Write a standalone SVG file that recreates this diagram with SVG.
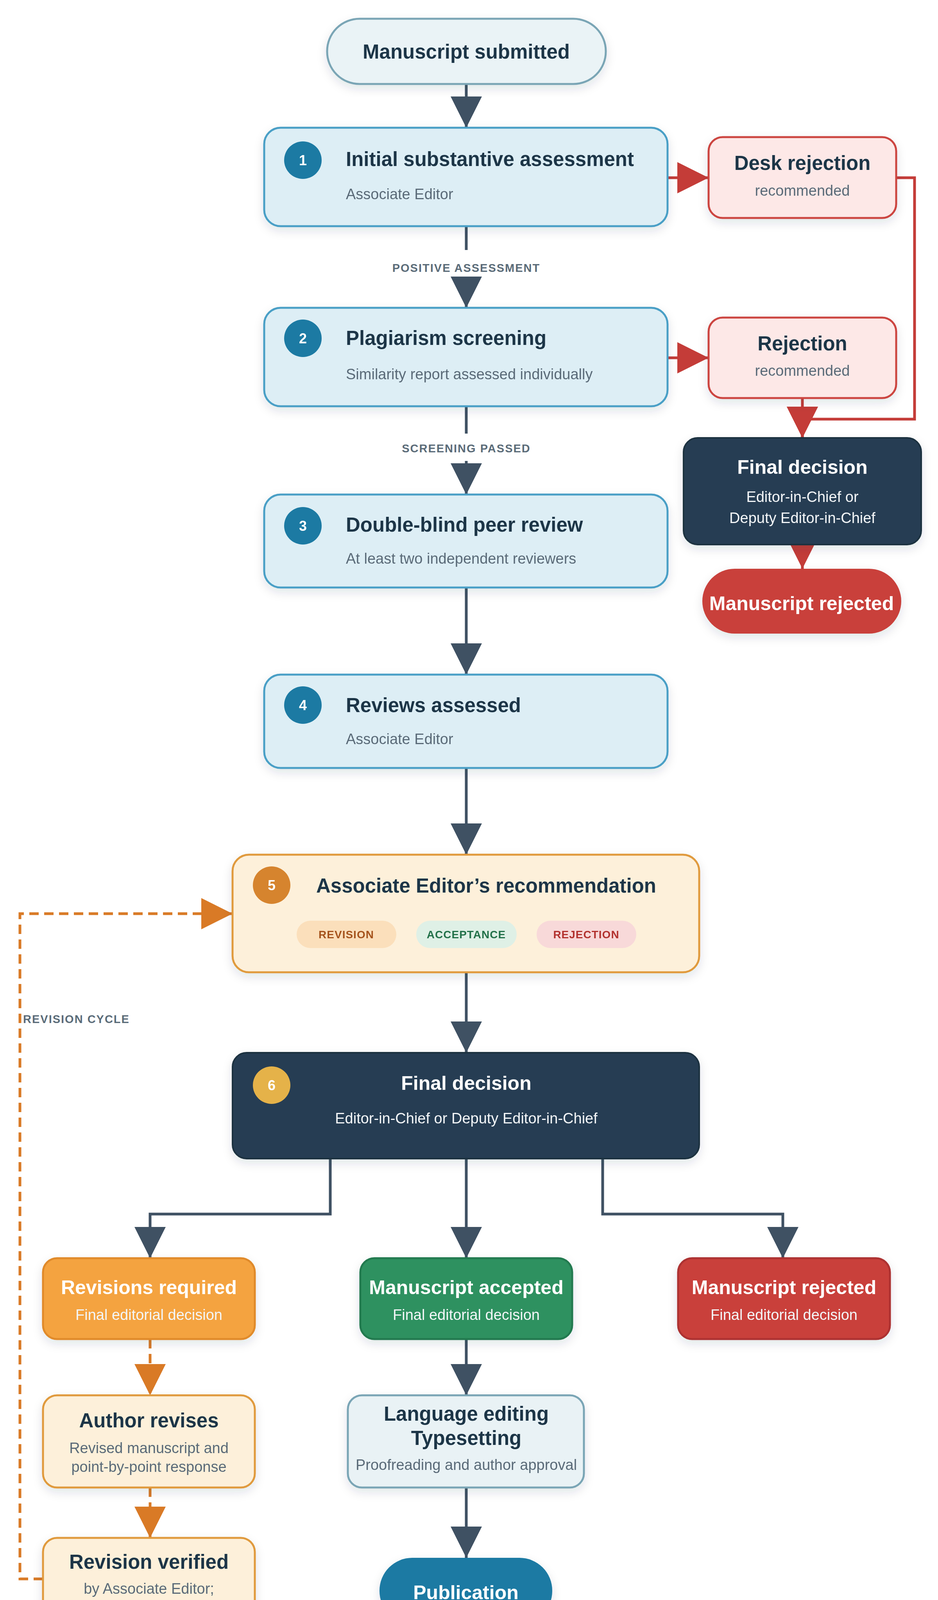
<svg xmlns="http://www.w3.org/2000/svg" width="2400" height="4230" viewBox="0 0 2400 4230">
<defs>
<filter id="sh" x="-10%" y="-10%" width="120%" height="130%"><feDropShadow dx="0" dy="10" stdDeviation="12" flood-color="#1c3447" flood-opacity="0.12"/></filter>
<marker id="ad" markerUnits="userSpaceOnUse" markerWidth="80" markerHeight="80" refX="80" refY="40" orient="auto"><path d="M0,0 L80,40 L0,80 Z" fill="#3f5163"/></marker>
<marker id="ar" markerUnits="userSpaceOnUse" markerWidth="80" markerHeight="80" refX="80" refY="40" orient="auto"><path d="M0,0 L80,40 L0,80 Z" fill="#c43c38"/></marker>
<marker id="ao" markerUnits="userSpaceOnUse" markerWidth="80" markerHeight="80" refX="80" refY="40" orient="auto"><path d="M0,0 L80,40 L0,80 Z" fill="#d97a26"/></marker>
</defs>
<style>
text{font-family:"Liberation Sans",Arial,sans-serif}
.t{font-size:51px;font-weight:bold;fill:#1c3447}
.tw{font-size:50px;font-weight:bold;fill:#ffffff}
.s{font-size:38px;fill:#5a6b78}
.sw{font-size:38px;fill:#f3f6f8}
.blue{fill:#ddeef5;stroke:#4a9fc6;stroke-width:5}
.red{fill:#fde8e7;stroke:#cc4440;stroke-width:5}
.dark{fill:#263d52;stroke:#1c3040;stroke-width:4}
.cream{fill:#fdf0da;stroke:#e09a3e;stroke-width:5}
.num{font-size:36px;font-weight:bold;fill:#fff}
.lab{font-size:29px;font-weight:bold;fill:#5a6b78;letter-spacing:2px}
.cd{fill:none;stroke:#3f5163;stroke-width:7}
.cr{fill:none;stroke:#c43c38;stroke-width:7}
.co{fill:none;stroke:#d97a26;stroke-width:7;stroke-dasharray:24 14}
</style>
<g id="connectors">
<path class="cd" d="M1193,215 V327" marker-end="url(#ad)"/>
<path class="cd" d="M1193,579 V640"/>
<path class="cd" d="M1193,711 V788" marker-end="url(#ad)"/>
<path class="cd" d="M1193,1040 V1110"/>
<path class="cd" d="M1193,1180 V1266" marker-end="url(#ad)"/>
<path class="cd" d="M1193,1504 V1727" marker-end="url(#ad)"/>
<path class="cd" d="M1193,1966 V2188" marker-end="url(#ad)"/>
<path class="cd" d="M1193,2489 V2695" marker-end="url(#ad)"/>
<path class="cr" d="M1708,455 H1813" marker-end="url(#ar)"/>
<path class="cr" d="M1708,916 H1813" marker-end="url(#ar)"/>
<path class="cr" d="M2293,455 H2340 V1073 H2053 V1121" marker-end="url(#ar)"/>
<path class="cr" d="M2053,1019 V1121" marker-end="url(#ar)"/>
<path class="cr" d="M2053,1394 V1456" marker-end="url(#ar)"/>
<path class="cd" d="M845,2966 V3108 H384 V3221" marker-end="url(#ad)"/>
<path class="cd" d="M1193,2966 V3221" marker-end="url(#ad)"/>
<path class="cd" d="M1542,2966 V3108 H2003 V3221" marker-end="url(#ad)"/>
<path class="co" d="M384,3428 V3572" marker-end="url(#ao)"/>
<path class="co" d="M384,3808 V3937" marker-end="url(#ao)"/>
<path class="co" d="M110,4042 H51 V2339 H595" marker-end="url(#ao)"/>
<path class="cd" d="M1193,3428 V3572" marker-end="url(#ad)"/>
<path class="cd" d="M1193,3808 V3988" marker-end="url(#ad)"/>
<text class="lab" x="1193" y="696" text-anchor="middle">POSITIVE ASSESSMENT</text>
<text class="lab" x="1193" y="1158" text-anchor="middle">SCREENING PASSED</text>
<text class="lab" x="59" y="2619">REVISION CYCLE</text>
</g>
<g id="submitted" filter="url(#sh)"><rect x="837" y="48" width="713" height="167" rx="83" fill="#eaf3f6" stroke="#7aa5b5" stroke-width="5"/><text class="t" x="1193" y="150" text-anchor="middle" font-size="54">Manuscript submitted</text></g>
<g id="step1" filter="url(#sh)"><rect class="blue" x="676" y="327" width="1032" height="252" rx="42"/><circle cx="775" cy="410" r="48" fill="#1a7aa3"/><text class="num" x="775" y="423" text-anchor="middle">1</text><text class="t" x="885" y="425">Initial substantive assessment</text><text class="s" x="885" y="510" font-size="40">Associate Editor</text></g>
<g id="desk" filter="url(#sh)"><rect class="red" x="1813" y="351" width="480" height="207" rx="36"/><text class="t" x="2053" y="435" text-anchor="middle">Desk rejection</text><text class="s" x="2053" y="501" text-anchor="middle">recommended</text></g>
<g id="step2" filter="url(#sh)"><rect class="blue" x="676" y="788" width="1032" height="252" rx="42"/><circle cx="775" cy="866" r="48" fill="#1a7aa3"/><text class="num" x="775" y="879" text-anchor="middle">2</text><text class="t" x="885" y="883">Plagiarism screening</text><text class="s" x="885" y="971" font-size="32">Similarity report assessed individually</text></g>
<g id="rej" filter="url(#sh)"><rect class="red" x="1813" y="813" width="480" height="206" rx="36"/><text class="t" x="2053" y="897" text-anchor="middle">Rejection</text><text class="s" x="2053" y="962" text-anchor="middle">recommended</text></g>
<g id="final-side" filter="url(#sh)"><rect class="dark" x="1749" y="1121" width="608" height="273" rx="36"/><text class="tw" x="2053" y="1213" text-anchor="middle">Final decision</text><text class="sw" x="2053" y="1285" text-anchor="middle" font-size="40">Editor-in-Chief or</text><text class="sw" x="2053" y="1339" text-anchor="middle" font-size="40">Deputy Editor-in-Chief</text></g>
<g id="rejected-top" filter="url(#sh)"><rect x="1797" y="1456" width="509" height="166" rx="83" fill="#c9403b"/><text class="tw" x="2051" y="1562" text-anchor="middle" font-size="49">Manuscript rejected</text></g>
<g id="step3" filter="url(#sh)"><rect class="blue" x="676" y="1266" width="1032" height="238" rx="42"/><circle cx="775" cy="1346" r="48" fill="#1a7aa3"/><text class="num" x="775" y="1359" text-anchor="middle">3</text><text class="t" x="885" y="1361">Double-blind peer review</text><text class="s" x="885" y="1443" font-size="31">At least two independent reviewers</text></g>
<g id="step4" filter="url(#sh)"><rect class="blue" x="676" y="1727" width="1032" height="239" rx="42"/><circle cx="775" cy="1805" r="48" fill="#1a7aa3"/><text class="num" x="775" y="1818" text-anchor="middle">4</text><text class="t" x="885" y="1823">Reviews assessed</text><text class="s" x="885" y="1905" font-size="40">Associate Editor</text></g>
<g id="step5" filter="url(#sh)"><rect class="cream" x="595" y="2188" width="1194" height="301" rx="42"/><circle cx="695" cy="2266" r="48" fill="#d6842f"/><text class="num" x="695" y="2279" text-anchor="middle">5</text><text class="t" x="1244" y="2285" text-anchor="middle" font-size="55">Associate Editor’s recommendation</text>
<rect x="759" y="2357" width="255" height="70" rx="35" fill="#fbdfbb"/><text x="886" y="2402" text-anchor="middle" font-size="28" font-weight="bold" fill="#a5531c" letter-spacing="1">REVISION</text>
<rect x="1065" y="2357" width="257" height="70" rx="35" fill="#dff0e6"/><text x="1193" y="2402" text-anchor="middle" font-size="28" font-weight="bold" fill="#23714a" letter-spacing="1">ACCEPTANCE</text>
<rect x="1373" y="2357" width="255" height="70" rx="35" fill="#f8d9d9"/><text x="1500" y="2402" text-anchor="middle" font-size="28" font-weight="bold" fill="#b2312f" letter-spacing="1">REJECTION</text></g>
<g id="step6" filter="url(#sh)"><rect class="dark" x="595" y="2695" width="1194" height="271" rx="36"/><circle cx="695" cy="2778" r="48" fill="#e5b24a"/><text class="num" x="695" y="2791" text-anchor="middle">6</text><text class="tw" x="1193" y="2790" text-anchor="middle">Final decision</text><text class="sw" x="1193" y="2876" text-anchor="middle" font-size="40">Editor-in-Chief or Deputy Editor-in-Chief</text></g>
<g id="revisions" filter="url(#sh)"><rect x="110" y="3221" width="542" height="207" rx="36" fill="#f4a340" stroke="#e08a2a" stroke-width="5"/><text class="tw" x="381" y="3313" text-anchor="middle">Revisions required</text><text class="sw" x="381" y="3379" text-anchor="middle">Final editorial decision</text></g>
<g id="accepted" filter="url(#sh)"><rect x="922" y="3221" width="542" height="207" rx="36" fill="#2f9160" stroke="#247a4f" stroke-width="5"/><text class="tw" x="1193" y="3313" text-anchor="middle">Manuscript accepted</text><text class="sw" x="1193" y="3379" text-anchor="middle">Final editorial decision</text></g>
<g id="rejected" filter="url(#sh)"><rect x="1735" y="3221" width="542" height="207" rx="36" fill="#c9403b" stroke="#ad3330" stroke-width="5"/><text class="tw" x="2006" y="3313" text-anchor="middle">Manuscript rejected</text><text class="sw" x="2006" y="3379" text-anchor="middle">Final editorial decision</text></g>
<g id="author" filter="url(#sh)"><rect class="cream" x="110" y="3572" width="542" height="236" rx="36"/><text class="t" x="381" y="3654" text-anchor="middle">Author revises</text><text class="s" x="381" y="3720" text-anchor="middle" font-size="32">Revised manuscript and</text><text class="s" x="381" y="3768" text-anchor="middle" font-size="32">point-by-point response</text></g>
<g id="verified" filter="url(#sh)"><rect class="cream" x="110" y="3937" width="542" height="223" rx="36"/><text class="t" x="381" y="4016" text-anchor="middle">Revision verified</text><text class="s" x="381" y="4080" text-anchor="middle" font-size="32">by Associate Editor;</text><text class="s" x="381" y="4127" text-anchor="middle" font-size="32">re-review if needed</text></g>
<g id="language" filter="url(#sh)"><rect x="890" y="3572" width="604" height="236" rx="36" fill="#e9f2f5" stroke="#7aa5b5" stroke-width="5"/><text class="t" x="1193" y="3637" text-anchor="middle">Language editing</text><text class="t" x="1193" y="3699" text-anchor="middle">Typesetting</text><text class="s" x="1193" y="3763" text-anchor="middle" font-size="32">Proofreading and author approval</text></g>
<g id="publication" filter="url(#sh)"><rect x="971" y="3988" width="442" height="169" rx="84" fill="#1a7aa3"/><text class="tw" x="1192" y="4094" text-anchor="middle" font-size="49">Publication</text></g>
</svg>
